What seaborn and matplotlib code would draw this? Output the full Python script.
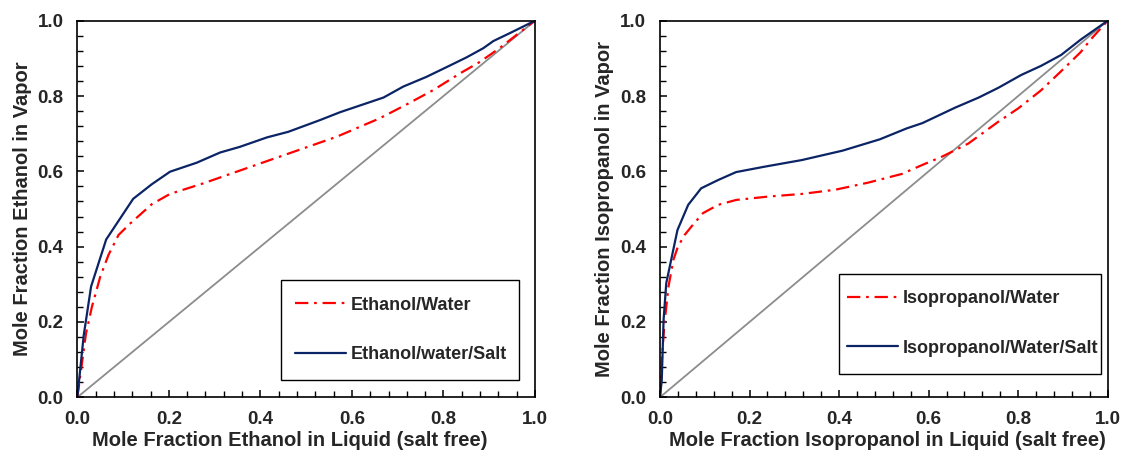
import matplotlib
matplotlib.use("Agg")
import matplotlib.pyplot as plt
from matplotlib.patches import Rectangle
from matplotlib.ticker import MultipleLocator
import seaborn as sns

# Ethanol system: liquid (salt free) vs vapour mole fractions
eth_water_x = [0.0, 0.019, 0.032, 0.05, 0.068, 0.09, 0.116, 0.163, 0.2025, 0.275, 0.348,
               0.421, 0.494, 0.567, 0.661, 0.72, 0.778, 0.836, 0.88, 0.92, 1.0]
eth_water_y = [0.0, 0.17, 0.241, 0.32, 0.378, 0.431, 0.462, 0.513, 0.540, 0.568, 0.599,
               0.630, 0.661, 0.692, 0.741, 0.778, 0.816, 0.860, 0.891, 0.925, 1.0]
eth_salt_x = [0.0, 0.014, 0.030, 0.063, 0.122, 0.163, 0.2025, 0.261, 0.312, 0.355, 0.414,
              0.461, 0.530, 0.574, 0.669, 0.712, 0.763, 0.814, 0.851, 0.887, 0.909, 0.945, 1.0]
eth_salt_y = [0.0, 0.165, 0.294, 0.419, 0.527, 0.566, 0.599, 0.623, 0.650, 0.665, 0.690,
              0.705, 0.736, 0.757, 0.796, 0.825, 0.851, 0.881, 0.903, 0.927, 0.946, 0.967, 1.0]

# Isopropanol system
ipa_water_x = [0.0, 0.005, 0.010, 0.019, 0.030, 0.040, 0.055, 0.070, 0.096, 0.130, 0.170,
               0.242, 0.317, 0.391, 0.465, 0.540, 0.586, 0.630, 0.689, 0.756, 0.800, 0.851,
               0.904, 0.940, 0.962, 1.0]
ipa_water_y = [0.0, 0.117, 0.196, 0.294, 0.365, 0.400, 0.431, 0.453, 0.489, 0.511, 0.524,
               0.533, 0.540, 0.551, 0.570, 0.593, 0.617, 0.639, 0.674, 0.732, 0.767, 0.815,
               0.875, 0.917, 0.950, 1.0]
ipa_salt_x = [0.0, 0.004, 0.008, 0.014, 0.039, 0.063, 0.092, 0.130, 0.170, 0.232, 0.317,
              0.408, 0.491, 0.551, 0.586, 0.659, 0.712, 0.756, 0.807, 0.851, 0.896, 0.940,
              1.0]
ipa_salt_y = [0.0, 0.046, 0.205, 0.303, 0.444, 0.511, 0.555, 0.577, 0.598, 0.612, 0.630,
              0.655, 0.685, 0.714, 0.728, 0.769, 0.796, 0.822, 0.856, 0.880, 0.909, 0.950,
              1.0]

diag = [0.0, 1.0]
tick_values = [0.0, 0.2, 0.4, 0.6, 0.8, 1.0]
tick_labels = ["0.0", "0.2", "0.4", "0.6", "0.8", "1.0"]

sns.set_theme(style="white")
plt.rcParams["font.family"] = ["Liberation Sans", "DejaVu Sans"]
plt.rcParams["font.weight"] = "bold"

RED = "#FF0000"
NAVY = "#0B2465"
GREY = "#8C8C8C"
TICK_FS = 13.5
LABEL_FS = 14.5
LEG_FS = 13

fig = plt.figure(figsize=(11.34, 4.53), dpi=100)
ax_l = fig.add_axes([0.0682, 0.1230, 0.4036, 0.8313])
ax_r = fig.add_axes([0.5820, 0.1230, 0.3948, 0.8313])

# frame: (x0, y0, w, h) in axes fractions; entries anchored at their left-centre
panels = [
    (ax_l, eth_water_x, eth_water_y, eth_salt_x, eth_salt_y,
     "Ethanol/Water", "Ethanol/water/Salt",
     "Mole Fraction Ethanol in Liquid (salt free)", "Mole Fraction Ethanol in Vapor",
     0.465, (0.445, 0.046, 0.520, 0.266), (0.4757, 0.1787)),
    (ax_r, ipa_water_x, ipa_water_y, ipa_salt_x, ipa_salt_y,
     "Isopropanol/Water", "Isopropanol/Water/Salt",
     "Mole Fraction Isopropanol in Liquid (salt free)", "Mole Fraction Isopropanol in Vapor",
     0.509, (0.400, 0.062, 0.585, 0.2655), (0.4177, 0.196)),
]

for ax, wx, wy, sx, sy, wlab, slab, xlab, ylab, xlab_pos, frame, entry in panels:
    sns.lineplot(x=diag, y=diag, ax=ax, color=GREY, linewidth=1.3, legend=False)
    sns.lineplot(x=wx, y=wy, ax=ax, color=RED, linewidth=1.6, legend=False,
                 linestyle=(0, (6, 2.6, 1.2, 2.6)))
    sns.lineplot(x=sx, y=sy, ax=ax, color=NAVY, linewidth=1.6, legend=False)
    lines = ax.get_lines()
    h_water, h_salt = lines[1], lines[2]

    ax.set_xlim(0, 1)
    ax.set_ylim(0, 1)
    ax.set_xticks(tick_values)
    ax.set_yticks(tick_values)
    ax.set_xticklabels(tick_labels, fontsize=TICK_FS, fontweight="bold")
    ax.set_yticklabels(tick_labels, fontsize=TICK_FS, fontweight="bold")
    ax.xaxis.set_minor_locator(MultipleLocator(0.04))
    ax.yaxis.set_minor_locator(MultipleLocator(0.04))
    ax.tick_params(which="major", direction="in", length=5, width=1.1, color="black",
                   pad=10, bottom=True, left=True, top=False, right=False)
    ax.tick_params(which="minor", direction="in", length=4, width=1.0, color="black",
                   bottom=True, left=True, top=False, right=False)
    for sp in ax.spines.values():
        sp.set_visible(True)
        sp.set_color("black")
        sp.set_linewidth(1.2)
    ax.set_xlabel(xlab, fontsize=LABEL_FS, fontweight="bold", labelpad=2)
    ax.xaxis.label.set_x(xlab_pos)
    ax.set_ylabel(ylab, fontsize=LABEL_FS, fontweight="bold", labelpad=4)

    ax.add_patch(Rectangle(frame[:2], frame[2], frame[3], transform=ax.transAxes,
                           facecolor="white", edgecolor="black", linewidth=1.0,
                           zorder=4, clip_on=False))
    leg = ax.legend([h_water, h_salt], [wlab, slab], loc="center left",
                    bbox_to_anchor=entry, frameon=False, borderaxespad=0,
                    borderpad=0, prop={"size": LEG_FS, "weight": "bold"},
                    handlelength=2.8, handletextpad=0.3, labelspacing=1.8)
    leg.set_zorder(5)

fig.savefig("out.png", dpi=100)
